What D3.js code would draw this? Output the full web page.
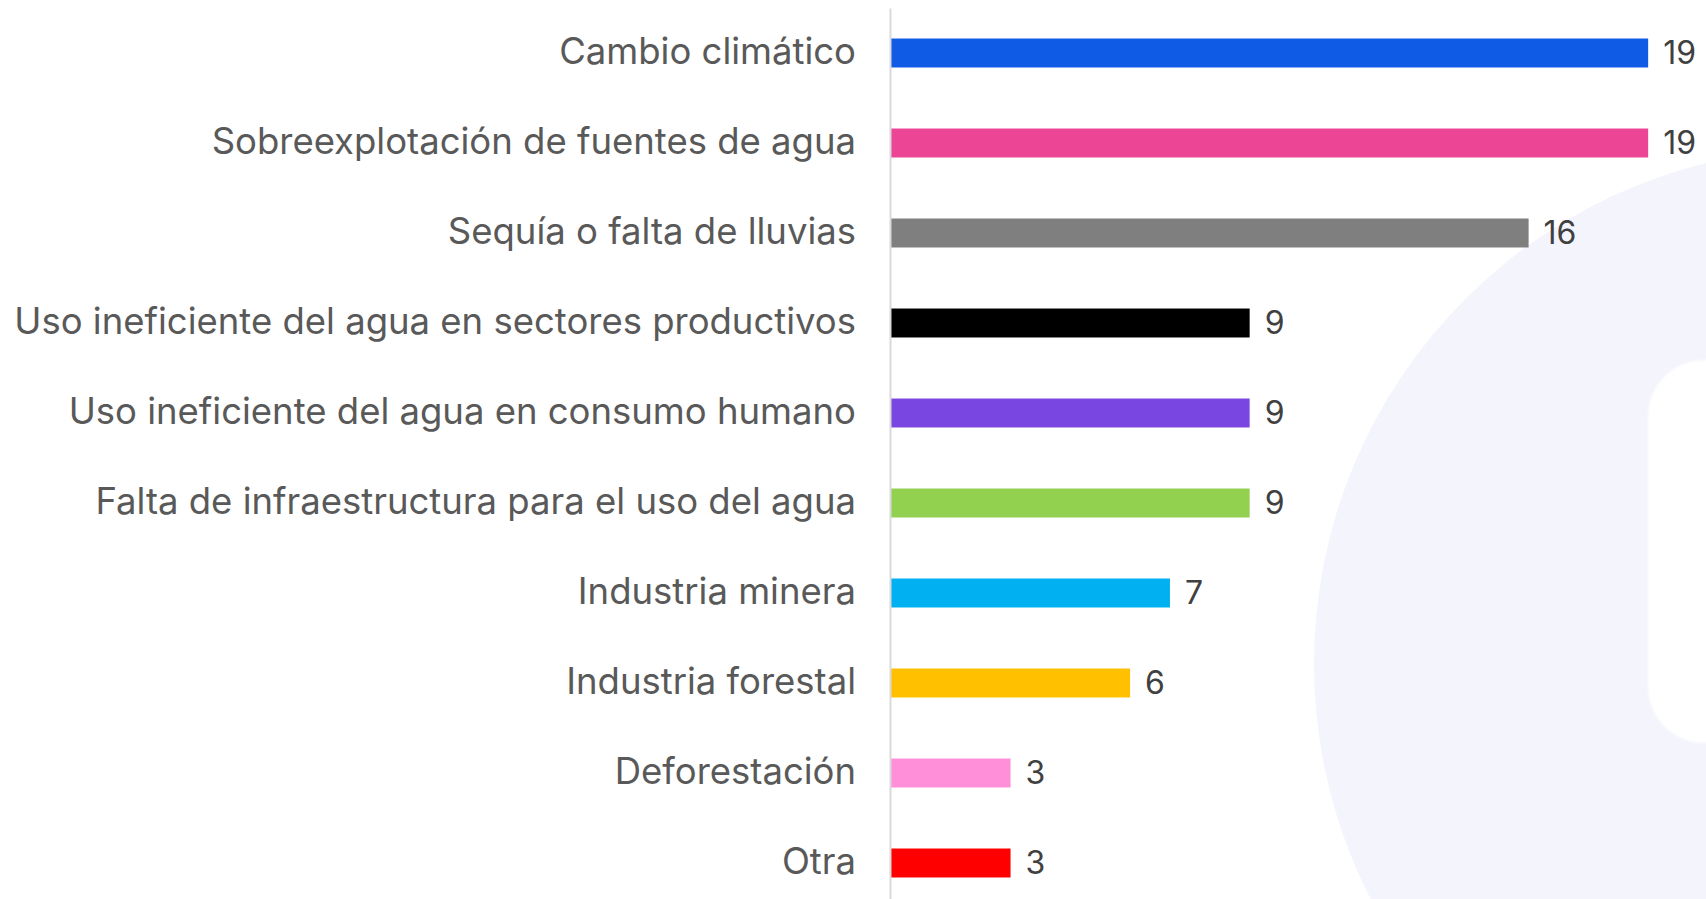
<!DOCTYPE html>
<html lang="es">
<head>
<meta charset="utf-8">
<script src="https://cdn.jsdelivr.net/npm/d3@7"></script>
<style>
  html, body { margin: 0; padding: 0; background: #ffffff; overflow: hidden; }
  svg { display: block; }
</style>
</head>
<body>
<svg id="chart" width="1706" height="899"></svg>
<script>
// Causes of water scarcity, number of mentions
const categories = [
  "Cambio climático",
  "Sobreexplotación de fuentes de agua",
  "Sequía o falta de lluvias",
  "Uso ineficiente del agua en sectores productivos",
  "Uso ineficiente del agua en consumo humano",
  "Falta de infraestructura para el uso del agua",
  "Industria minera",
  "Industria forestal",
  "Deforestación",
  "Otra"
];
const values = [19, 19, 16, 9, 9, 9, 7, 6, 3, 3];
const colors = [
  "#105be6", "#ed4596", "#7f7f7f", "#000000", "#7a46e2",
  "#92d050", "#00b0f0", "#ffc000", "#ff8fd8", "#ff0000"
];

const W = 1706, H = 899;
const svg = d3.select("#chart");

// soft background emblem on the right
const defs = svg.append("defs");
defs.append("filter").attr("id", "soft")
  .append("feGaussianBlur").attr("stdDeviation", 1.2);

const deco = svg.append("g");
deco.append("circle")
  .attr("cx", 1830).attr("cy", 664).attr("r", 516)
  .attr("fill", "#f3f4fc");
deco.append("rect")
  .attr("x", 1648).attr("y", 360).attr("width", 200).attr("height", 383)
  .attr("rx", 56).attr("ry", 56)
  .attr("fill", "#ffffff")
  .attr("filter", "url(#soft)");

// scales
const x = d3.scaleLinear().domain([0, 20]).range([891, 1688]);
const y = d3.scaleBand().domain(categories).range([8, 908])
  .paddingInner(0.678).paddingOuter(0.339);

// bars
svg.append("g").selectAll("rect")
  .data(categories)
  .join("rect")
  .attr("x", x(0))
  .attr("y", d => y(d))
  .attr("width", (d, i) => x(values[i]) - x(0))
  .attr("height", y.bandwidth())
  .attr("fill", (d, i) => colors[i]);

// category axis (line only, labels drawn below)
const axis = d3.axisLeft(y).tickSize(0).tickFormat("");
const axisG = svg.append("g")
  .attr("transform", `translate(${x(0) - 1},0)`)
  .call(axis);
axisG.select(".domain").attr("stroke", "#d9d9d9").attr("stroke-width", 2);

// category labels
const labelFont = "Inter, 'Noto Sans', sans-serif";
const labels = svg.append("g").selectAll("text")
  .data(categories)
  .join("text")
  .attr("x", 856)
  .attr("y", d => y(d) + y.bandwidth() / 2)
  .attr("dy", "0.3em")
  .attr("text-anchor", "end")
  .attr("fill", "#595959")
  .style("font-family", labelFont)
  .style("font-size", "30px")
  .text(d => d);

// size the labels so the longest one fills the label column
let longest = 0;
labels.each(function() { longest = Math.max(longest, this.getComputedTextLength()); });
const labelSize = 30 * 842 / longest;
labels.style("font-size", labelSize + "px");

// value labels
svg.append("g").selectAll("text")
  .data(categories)
  .join("text")
  .attr("x", (d, i) => x(values[i]) + 15)
  .attr("y", d => y(d) + y.bandwidth() / 2)
  .attr("dy", "0.33em")
  .attr("fill", "#404040")
  .style("font-family", labelFont)
  .style("font-size", "32px")
  .text((d, i) => values[i]);
</script>
</body>
</html>
